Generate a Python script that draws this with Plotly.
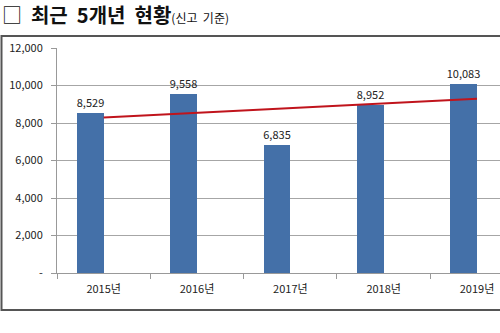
import numpy as np
import plotly.graph_objects as go

# Reported cases per year
years = ["2015년", "2016년", "2017년", "2018년", "2019년"]
counts = [8529, 9558, 6835, 8952, 10083]

# Y axis ticks
y_tickvals = [0, 2000, 4000, 6000, 8000, 10000, 12000]
y_ticktext = ["-", "2,000", "4,000", "6,000", "8,000", "10,000", "12,000"]

W, H = 500, 333

# least-squares linear trend over the five years
idx = np.arange(len(counts))
slope, intercept = np.polyfit(idx, counts, 1)
trend = slope * idx + intercept

bar_w = 0.2857

fig = go.Figure()
fig.add_trace(go.Bar(
    x=years, y=counts,
    width=bar_w, offset=-bar_w,
    marker=dict(color="#4470A8", line=dict(width=0)),
    text=[f"{v:,}" for v in counts],
    textposition="outside",
    constraintext="none",
    textfont=dict(family="Noto Sans CJK KR", size=11, color="#222"),
    cliponaxis=False,
    hoverinfo="skip",
))
fig.add_trace(go.Scatter(
    x=years, y=trend, mode="lines",
    line=dict(color="#C0141C", width=2),
    hoverinfo="skip",
))

def py(pix):
    return (H - pix) / H

fig.update_layout(
    width=W, height=H,
    margin=dict(l=0, r=0, t=0, b=0),
    paper_bgcolor="white", plot_bgcolor="white",
    showlegend=False,
    bargap=0,
    xaxis=dict(
        domain=[57 / W, 1.0],
        range=[-0.5, -0.5 + (W - 57) / 93.33],
        type="category",
        tickson="boundaries",
        ticks="outside", ticklen=5, tickcolor="#999",
        showline=True, linecolor="#999", linewidth=1,
        showgrid=False, zeroline=False,
        tickfont=dict(family="Noto Sans CJK KR", size=11, color="#222"),
        ticklabelstandoff=6,
        automargin=False,
    ),
    yaxis=dict(
        domain=[py(273), py(48)],
        range=[0, 12000],
        tickvals=y_tickvals, ticktext=y_ticktext,
        ticks="outside", ticklen=5, tickcolor="#999",
        showline=True, linecolor="#999", linewidth=1,
        showgrid=True, gridcolor="#A6A6A6", gridwidth=1,
        zeroline=False,
        tickfont=dict(family="Noto Sans CJK KR", size=11, color="#222"),
        ticklabelstandoff=6,
        automargin=False,
    ),
    shapes=[
        dict(type="rect", xref="paper", yref="paper",
             x0=1.5 / W, x1=1.02, y0=py(310), y1=py(36),
             line=dict(color="#555", width=2), fillcolor="rgba(0,0,0,0)",
             layer="below"),
    ],
    annotations=[
        dict(xref="paper", yref="paper", x=0, y=py(14),
             xanchor="left", yanchor="middle", showarrow=False,
             text=("□&nbsp; <b>최근&nbsp; 5개년&nbsp; 현황</b>"
                   "<span style='font-size:12px'>(신고&nbsp; 기준)</span>"),
             font=dict(family="Noto Sans CJK KR", size=20, color="#111")),
    ],
)

fig.write_html("out.html")
